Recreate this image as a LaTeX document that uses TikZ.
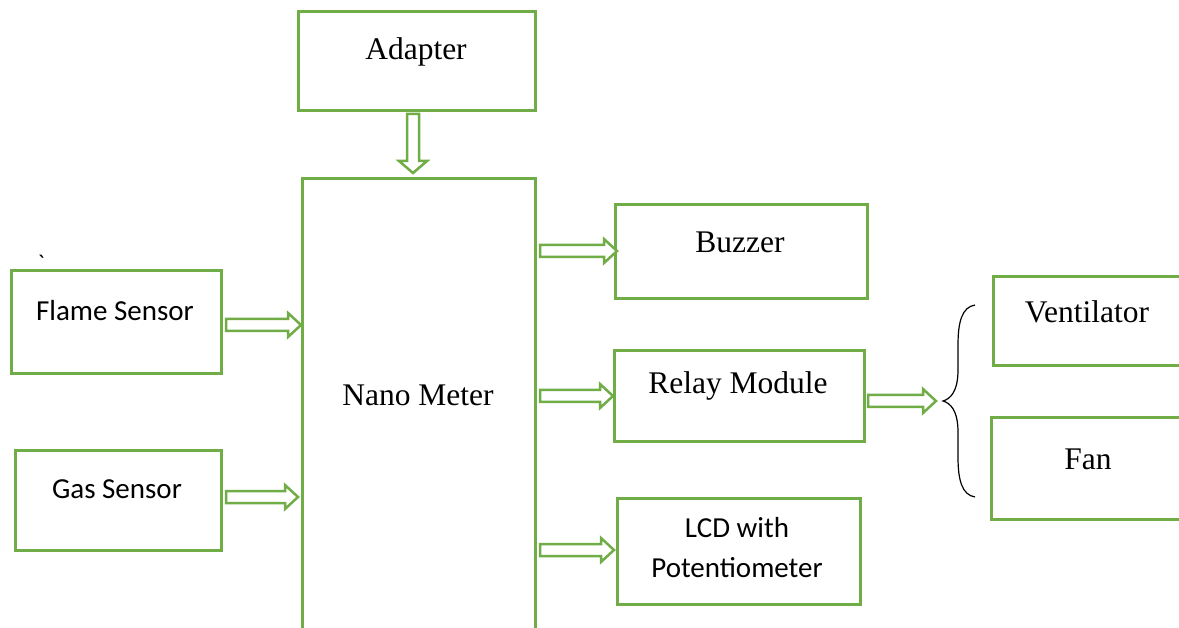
\documentclass[tikz,border=0pt]{standalone}
\usepackage{fontspec}
\setmainfont{Liberation Serif}
\newfontfamily\calfont{Carlito}
\usetikzlibrary{calc}
\definecolor{grn}{HTML}{70AD47}
\newcommand\harr[2]{\draw[arr] let \p1=(#1), \p2=(#2) in (\x1,\y1+6pt) -- (\x2-13pt,\y1+6pt) -- (\x2-13pt,\y1+12pt) -- (\x2,\y1) -- (\x2-13pt,\y1-12pt) -- (\x2-13pt,\y1-6pt) -- (\x1,\y1-6pt) -- cycle;}
\newcommand\varr[2]{\draw[arr] let \p1=(#1), \p2=(#2) in (\x1-6pt,\y1) -- (\x1-6pt,\y2+12pt) -- (\x1-14pt,\y2+12pt) -- (\x1,\y2) -- (\x1+14pt,\y2+12pt) -- (\x1+6pt,\y2+12pt) -- (\x1+6pt,\y1) -- cycle;}
\begin{document}
\begin{tikzpicture}[x=1pt,y=-1pt,
  box/.style={draw=grn, line width=3pt, inner sep=0pt, anchor=north west},
  arr/.style={draw=grn, line width=2.5pt, fill=white, line join=miter},
  serif/.style={font=\fontsize{31.5}{38}\selectfont},
  sans/.style={font=\calfont\fontsize{29}{40}\selectfont, align=center}]
\useasboundingbox (0,0) rectangle (1179,628);
\clip (0,0) rectangle (1179,628);
% boxes
\node[box, minimum width=237, minimum height=99] (adapter) at (297,10) {};
\node[box, minimum width=233, minimum height=470] (nano) at (301,177) {};
\node[box, minimum width=210, minimum height=103] (flame) at (10,269) {};
\node[box, minimum width=206, minimum height=100] (gas) at (14,449) {};
\node[box, minimum width=252, minimum height=94] (buzzer) at (614,203) {};
\node[box, minimum width=250, minimum height=91] (relay) at (613,349) {};
\node[box, minimum width=243, minimum height=106] (lcd) at (616,497) {};
\node[box, minimum width=200, minimum height=89] (vent) at (992,275) {};
\node[box, minimum width=200, minimum height=102] (fan) at (990,416) {};
% labels
\node[serif] (tadapter) at (416,52) {Adapter};
\node[serif] (tnano) at (418,395) {Nano Meter};
\node[sans] (tflame) at (115,311) {Flame Sensor};
\node[sans] (tgas) at (117,489) {Gas Sensor};
\node[serif] (tbuzzer) at (740,242) {Buzzer};
\node[serif] (trelay) at (738,386) {Relay Module};
\node[sans] (tlcd) at (737,548) {LCD with\\Potentiometer};
\node[serif] (tvent) at (1087,312) {Ventilator};
\node[serif] (tfan) at (1088,459) {Fan};
\node[sans, font=\calfont\fontsize{24}{28}\selectfont] (tick) at (41,263) {`};
% arrow end points
\coordinate (a0) at (413,114);
\coordinate (a1) at (413,173);
\coordinate (f0) at (226,325);
\coordinate (g0) at (226,497);
\coordinate (b0) at (540,251);
\coordinate (r0) at (540,396);
\coordinate (l0) at (540,550);
\coordinate (q0) at (868,401);
\coordinate (br) at (936,401);
% arrows
\varr{a0}{a1}
\harr{f0}{nano.west |- f0}
\harr{g0}{[xshift=-3pt]nano.west |- g0}
\harr{b0}{[xshift=3pt]buzzer.west |- b0}
\harr{r0}{relay.west |- r0}
\harr{l0}{[xshift=-2pt]lcd.west |- l0}
\harr{q0}{br}
% brace
\draw[line width=1.2pt] (975,305) .. controls (962,307) and (958,322) .. (958,345) -- (958,370)
  .. controls (958,392) and (950,399) .. (943,401)
  .. controls (950,403) and (958,410) .. (958,432) -- (958,457)
  .. controls (958,480) and (962,495) .. (975,497);
\end{tikzpicture}
\end{document}
